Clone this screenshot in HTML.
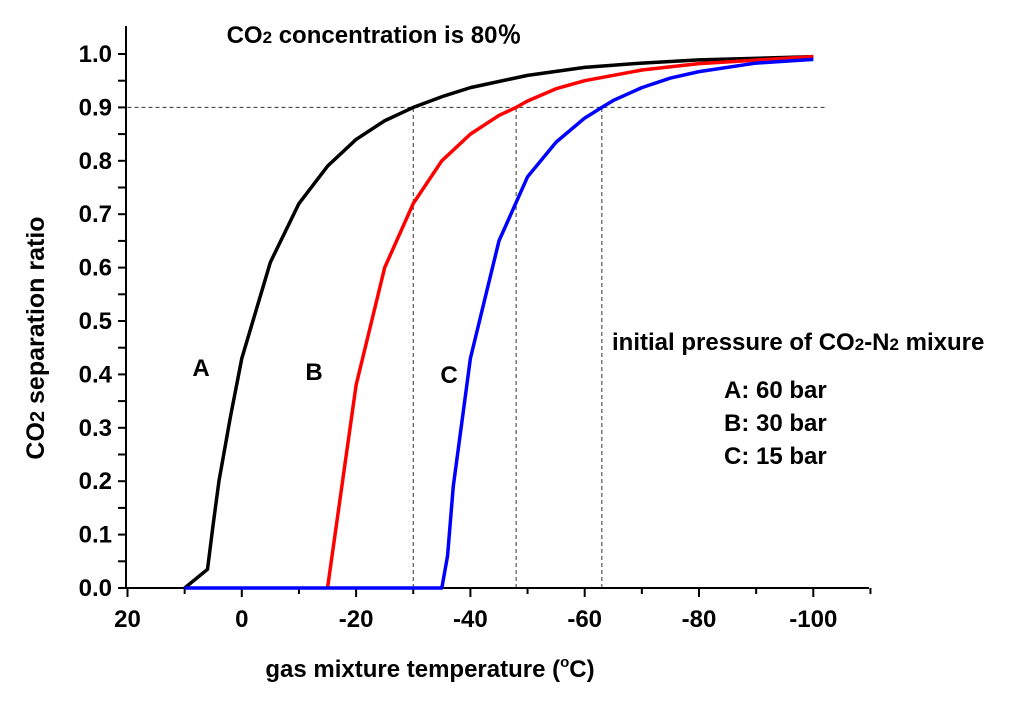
<!DOCTYPE html>
<html><head><meta charset="utf-8"><style>
body{margin:0;background:#fff;}
svg text{font-family:"Liberation Sans",Arial,sans-serif;font-weight:bold;fill:#000;}
</style></head><body>
<svg id="chart" width="1024" height="702" xmlns="http://www.w3.org/2000/svg">
<g id="plot"></g>
<text x="374" y="43" font-size="24" text-anchor="middle">CO<tspan font-size="17">2</tspan> concentration is 80％</text>
<text transform="translate(44,338) rotate(-90)" font-size="25" text-anchor="middle">CO<tspan font-size="20">2</tspan> separation ratio</text>
<text x="430" y="677" font-size="24" text-anchor="middle">gas mixture temperature (<tspan font-size="15" dy="-10">o</tspan><tspan dy="10">C)</tspan></text>
<text x="201" y="376" font-size="24" text-anchor="middle">A</text>
<text x="314" y="380" font-size="24" text-anchor="middle">B</text>
<text x="449" y="383" font-size="24" text-anchor="middle">C</text>
<text x="612" y="350" font-size="24">initial pressure of CO<tspan font-size="17">2</tspan>-N<tspan font-size="17">2</tspan> mixure</text>
<text x="724" y="398" font-size="24">A: 60 bar</text>
<text x="724" y="431" font-size="24">B: 30 bar</text>
<text x="724" y="464" font-size="24">C: 15 bar</text>
</svg>
<script>
const xTicks=[20,0,-20,-40,-60,-80,-100];
const yTicks=[0,0.1,0.2,0.3,0.4,0.5,0.6,0.7,0.8,0.9,1.0];
const aTemp=[10,6,5,4,2,0,-5,-10,-15,-20,-25,-30,-35,-40,-50,-60,-70,-80,-100];
const aRatio=[0,0.035,0.12,0.2,0.32,0.43,0.61,0.72,0.79,0.84,0.875,0.9,0.92,0.937,0.96,0.975,0.983,0.989,0.995];
const bTemp=[-15,-20,-25,-30,-35,-40,-45,-48,-50,-55,-60,-70,-80,-100];
const bRatio=[0,0.38,0.6,0.72,0.8,0.85,0.885,0.9,0.912,0.935,0.95,0.97,0.982,0.995];
const cTemp=[10,-35,-36,-37,-40,-45,-50,-55,-60,-63,-65,-70,-75,-80,-90,-100];
const cRatio=[0,0,0.06,0.19,0.43,0.65,0.77,0.835,0.88,0.9,0.913,0.937,0.955,0.967,0.983,0.99];
const refTemps=[-30,-48,-63];
const refRatio=0.9;
const X=v=>127.5+(20-v)*5.715;
const Y=v=>588-v*534;
const g=document.getElementById('plot');
const NS='http://www.w3.org/2000/svg';
function mk(t,a){const e=document.createElementNS(NS,t);for(const k in a)e.setAttribute(k,a[k]);g.appendChild(e);return e;}
let h=mk('line',{x1:X(20),x2:X(-102),y1:Y(refRatio),y2:Y(refRatio),stroke:'#333','stroke-width':1,'stroke-dasharray':'4,3'});


refTemps.forEach(t=>{const l=mk('line',{x1:X(t),x2:X(t),y1:Y(0),y2:Y(refRatio),stroke:'#333','stroke-width':1,'stroke-dasharray':'4,3'});

});
let ax=mk('line',{x1:126,x2:869,y1:588,y2:588,stroke:'#000','stroke-width':2});


let ay=mk('line',{x1:126,x2:126,y1:26,y2:589,stroke:'#000','stroke-width':2});


for(let v=20;v>=-110;v-=10){mk('line',{x1:X(v),x2:X(v),y1:588,y2:v%20===0?597:594,stroke:'#000','stroke-width':2});}
for(let v=0;v<=1.05;v+=0.05){mk('line',{x1:118,x2:126,y1:Y(v),y2:Y(v),stroke:'#000','stroke-width':2});}
xTicks.forEach(v=>{const t=mk('text',{x:X(v),y:627,'font-size':24,'text-anchor':'middle'});t.textContent=v;

});
yTicks.forEach(v=>{const t=mk('text',{x:112,y:Y(v)+8,'font-size':24,'text-anchor':'end'});t.textContent=v.toFixed(1);

});
function series(xs,ys,c,name){const p=mk('polyline',{points:xs.map((x,i)=>X(x)+','+Y(ys[i])).join(' '),fill:'none',stroke:c,'stroke-width':3.5,'stroke-linejoin':'round'});

}
series(aTemp,aRatio,'#000','series-a-line');
series(bTemp,bRatio,'#f00','series-b-line');
series(cTemp,cRatio,'#00f','series-c-line');
</script>
</body></html>
